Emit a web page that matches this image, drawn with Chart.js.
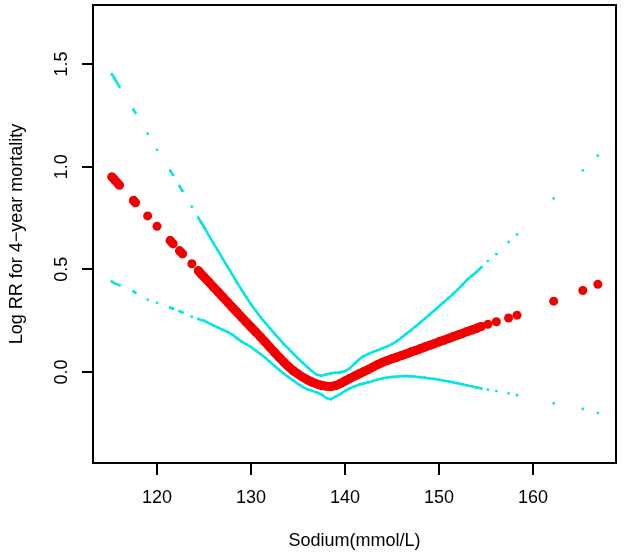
<!DOCTYPE html>
<html lang="en">
<head>
    <meta charset="UTF-8">
    <title>Log RR for 4-year mortality vs sodium</title>
    <script src="https://cdn.jsdelivr.net/npm/chart.js"></script>
    <style>
        body { margin: 0; background: #fff; }
        #wrap { width: 624px; height: 559px; }
    </style>
</head>
<body>
    <div id="wrap"><canvas id="rrChart"></canvas></div>

    <script>
        // Sodium values (mmol/L) where the fit was evaluated
        const sodium = [
            115.2, 115.5, 116.0, 117.5, 117.7, 119.0, 120.0, 121.4, 121.7, 122.4, 122.7, 123.7, 124.4, 124.7,
            125.0, 125.5, 126.0, 126.5, 127.0, 127.5, 128.0, 128.5, 129.0, 129.5,
            130.0, 130.5, 131.0, 131.5, 132.0, 132.5, 133.0, 133.5, 134.0, 134.5,
            135.0, 135.5, 136.0, 136.5, 137.0, 137.5, 138.0, 138.5, 139.0, 139.5,
            140.0, 140.5, 141.0, 141.5, 142.0, 142.5, 143.0, 143.5, 144.0, 144.5,
            145.0, 145.5, 146.0, 146.5, 147.0, 147.5, 148.0, 148.5, 149.0, 149.5,
            150.0, 150.5, 151.0, 151.5, 152.0, 152.5, 153.0, 153.5, 154.0, 154.5,
            155.2, 156.1, 157.4, 158.3, 162.2, 165.3, 166.9
        ];

        // Fitted log RR (red)
        const logRR = [
            0.950, 0.935, 0.910, 0.835, 0.825, 0.760, 0.710, 0.640, 0.625, 0.590, 0.576, 0.527, 0.493, 0.477,
            0.463, 0.439, 0.414, 0.390, 0.365, 0.341, 0.316, 0.292, 0.267, 0.243,
            0.219, 0.195, 0.171, 0.146, 0.121, 0.096, 0.071, 0.048, 0.026, 0.006,
            -0.010, -0.025, -0.038, -0.049, -0.058, -0.065, -0.069, -0.070, -0.066, -0.056,
            -0.044, -0.032, -0.020, -0.009, 0.002, 0.013, 0.025, 0.037, 0.047, 0.056,
            0.064, 0.072, 0.080, 0.088, 0.097, 0.105, 0.113, 0.122, 0.130, 0.138,
            0.147, 0.155, 0.163, 0.172, 0.180, 0.188, 0.197, 0.205, 0.213, 0.222,
            0.232, 0.245, 0.263, 0.277, 0.345, 0.397, 0.427
        ];

        // Upper confidence bound (cyan)
        const upperCI = [
            1.450, 1.428, 1.390, 1.278, 1.262, 1.160, 1.082, 0.980, 0.960, 0.905, 0.882, 0.805, 0.751, 0.728,
            0.705, 0.667, 0.628, 0.590, 0.551, 0.513, 0.475, 0.437, 0.400, 0.364,
            0.330, 0.298, 0.268, 0.240, 0.213, 0.187, 0.161, 0.136, 0.113, 0.090,
            0.067, 0.045, 0.024, 0.004, -0.013, -0.018, -0.012, -0.006, -0.004, -0.002,
            0.004, 0.018, 0.040, 0.062, 0.077, 0.088, 0.098, 0.107, 0.116, 0.125,
            0.136, 0.150, 0.167, 0.185, 0.203, 0.222, 0.241, 0.260, 0.280, 0.300,
            0.320, 0.340, 0.360, 0.380, 0.402, 0.425, 0.450, 0.469, 0.488, 0.510,
            0.540, 0.574, 0.633, 0.670, 0.845, 0.982, 1.053
        ];

        // Lower confidence bound (cyan)
        const lowerCI = [
            0.440, 0.432, 0.423, 0.392, 0.386, 0.352, 0.337, 0.313, 0.308, 0.296, 0.290, 0.269, 0.258, 0.253,
            0.250, 0.238, 0.227, 0.216, 0.205, 0.195, 0.182, 0.165, 0.148, 0.135,
            0.122, 0.105, 0.088, 0.070, 0.050, 0.030, 0.010, -0.008, -0.025, -0.042,
            -0.058, -0.072, -0.084, -0.092, -0.099, -0.110, -0.127, -0.132, -0.120, -0.108,
            -0.092, -0.080, -0.070, -0.062, -0.056, -0.050, -0.043, -0.036, -0.031, -0.027,
            -0.024, -0.022, -0.021, -0.020, -0.021, -0.023, -0.025, -0.028, -0.031, -0.034,
            -0.038, -0.042, -0.046, -0.050, -0.055, -0.060, -0.065, -0.070, -0.075, -0.080,
            -0.086, -0.093, -0.104, -0.113, -0.153, -0.180, -0.199
        ];

        const xTicks = [120, 130, 140, 150, 160];
        const yTicks = [0.0, 0.5, 1.0, 1.5];
        const yTickLabels = ['0.0', '0.5', '1.0', '1.5'];

        const xRange = [113.19, 168.83];
        const yRange = [-0.443, 1.787];

        const FONT = 'Liberation Sans, Arial, sans-serif';
        const RED = '#f20000';
        const CYAN = '#00e6e6';
        const MAX_GAP = 0.55; // points further apart than this stay as separate dots

        const toPoints = ys => sodium.map((x, i) => ({ x: x, y: ys[i] }));
        const hideGaps = ctx => (ctx.p1.parsed.x - ctx.p0.parsed.x > MAX_GAP ? 'transparent' : undefined);

        // box round the plot and rotated y tick labels (R style)
        const frame = {
            id: 'frame',
            afterDraw(chart) {
                const { ctx, chartArea: a } = chart;
                const ys = chart.scales.y;
                ctx.save();
                ctx.strokeStyle = '#000';
                ctx.lineWidth = 2;
                ctx.strokeRect(a.left, a.top, a.right - a.left, a.bottom - a.top);
                ctx.fillStyle = '#000';
                ctx.font = '18px ' + FONT;
                ctx.textAlign = 'center';
                ctx.textBaseline = 'middle';
                yTicks.forEach((v, i) => {
                    ctx.save();
                    ctx.translate(62, ys.getPixelForValue(v));
                    ctx.rotate(-Math.PI / 2);
                    ctx.fillText(yTickLabels[i], 0, 0);
                    ctx.restore();
                });
                ctx.restore();
            }
        };

        const config = {
            type: 'scatter',
            data: {
                datasets: [
                    {
                        label: 'Log RR',
                        data: toPoints(logRR),
                        showLine: true,
                        borderColor: RED,
                        backgroundColor: RED,
                        borderWidth: 9,
                        borderCapStyle: 'round',
                        borderJoinStyle: 'round',
                        pointRadius: 4.5,
                        pointBorderWidth: 0,
                        segment: { borderColor: hideGaps }
                    },
                    {
                        label: 'Upper',
                        data: toPoints(upperCI),
                        showLine: true,
                        borderColor: CYAN,
                        backgroundColor: CYAN,
                        borderWidth: 2.5,
                        borderCapStyle: 'round',
                        pointRadius: 1.4,
                        pointBorderWidth: 0,
                        segment: { borderColor: hideGaps }
                    },
                    {
                        label: 'Lower',
                        data: toPoints(lowerCI),
                        showLine: true,
                        borderColor: CYAN,
                        backgroundColor: CYAN,
                        borderWidth: 2.5,
                        borderCapStyle: 'round',
                        pointRadius: 1.4,
                        pointBorderWidth: 0,
                        segment: { borderColor: hideGaps }
                    }
                ]
            },
            options: {
                responsive: true,
                maintainAspectRatio: false,
                animation: false,
                events: [],
                layout: { padding: { left: 0, right: 8, top: 5, bottom: 0 } },
                plugins: {
                    legend: { display: false },
                    tooltip: { enabled: false }
                },
                scales: {
                    x: {
                        type: 'linear',
                        min: xRange[0],
                        max: xRange[1],
                        afterBuildTicks: s => { s.ticks = xTicks.map(v => ({ value: v })); },
                        afterFit: s => { s.height = 96; },
                        grid: { drawOnChartArea: false, drawTicks: true, tickLength: 12, color: '#000', lineWidth: 2 },
                        border: { display: false },
                        ticks: {
                            color: '#000',
                            padding: 12,
                            maxRotation: 0,
                            autoSkip: false,
                            font: { family: FONT, size: 18 }
                        },
                        title: {
                            display: true,
                            text: 'Sodium(mmol/L)',
                            color: '#000',
                            padding: { top: 0, bottom: 7 },
                            font: { family: FONT, size: 18 }
                        }
                    },
                    y: {
                        type: 'linear',
                        min: yRange[0],
                        max: yRange[1],
                        afterBuildTicks: s => { s.ticks = yTicks.map(v => ({ value: v })); },
                        afterFit: s => { s.width = 93; },
                        grid: { drawOnChartArea: false, drawTicks: true, tickLength: 11, color: '#000', lineWidth: 2 },
                        border: { display: false },
                        ticks: { display: false },
                        title: {
                            display: true,
                            text: 'Log RR for 4\u2212year mortality',
                            color: '#000',
                            padding: { top: 6, bottom: 0 },
                            font: { family: FONT, size: 18 }
                        }
                    }
                }
            },
            plugins: [frame]
        };

        new Chart(document.getElementById('rrChart').getContext('2d'), config);
    </script>
</body>
</html>
